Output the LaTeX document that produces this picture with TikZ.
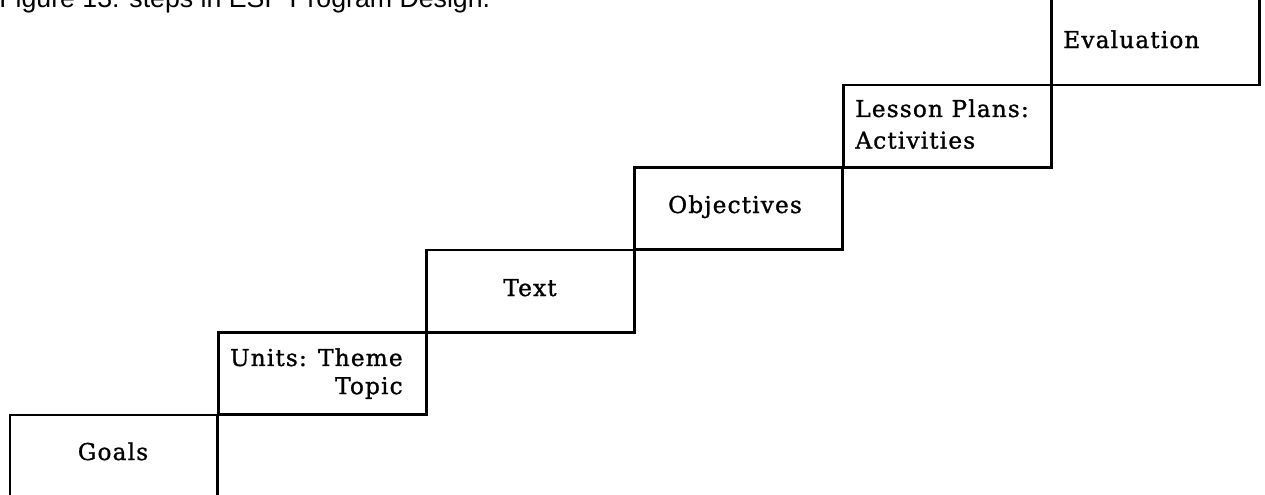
\documentclass[tikz,border=0pt]{standalone}
\usepackage{fontspec}
\newfontfamily\capfont{Liberation Sans}
\newfontfamily\stepfont[LetterSpace=5,FakeBold=1.2]{DejaVu Serif}

\tikzset{stepbox/.style={draw,line width=1.7pt,rectangle,minimum width=4.16cm,minimum height=1.65cm,inner sep=0pt,outer sep=0pt}}
\tikzset{steplabel/.style={font=\stepfont\fontsize{13.2}{16}\selectfont,inner sep=0pt}}

\begin{document}
\begin{tikzpicture}[x=0.02cm,y=-0.02cm]
        \useasboundingbox (0,0) rectangle (1265,494);
        % caption, cut off at the top edge
        \node[font=\capfont\fontsize{15.2}{18}\selectfont,anchor=base west,inner sep=0pt] (caption) at (-1,7) {Figure 13: steps in ESP Program Design.};
        % the steps, lowest first
        \node[stepbox,anchor=north west,minimum height=2cm] (goals) at (10,415) {};
        \node[stepbox,anchor=north west] (units) at (218.3,332.5) {};
        \node[stepbox,anchor=north west] (text) at (426.6,250) {};
        \node[stepbox,anchor=north west] (objectives) at (634.9,167.5) {};
        \node[stepbox,anchor=north west] (lesson) at (843.2,85) {};
        \node[stepbox,anchor=south west,minimum height=2cm] (evaluation) at (1051.5,85) {};
        % the labels
        \node[steplabel,anchor=base] (goalstxt) at (113,460) {Goals};
        \node[steplabel,anchor=north east,align=right] (unitstxt) at (403,348) {Units: Theme\\Topic};
        \node[steplabel,anchor=base] (texttxt) at (530,296) {Text};
        \node[steplabel,anchor=base] (objectivestxt) at (735,213) {Objectives};
        \node[steplabel,anchor=north west,align=left,font=\stepfont\fontsize{13.2}{18}\selectfont] (lessontxt) at (855,99) {Lesson Plans:\\Activities};
        \node[steplabel,anchor=base west] (evaluationtxt) at (1063,48) {Evaluation};
\end{tikzpicture}
\end{document}
